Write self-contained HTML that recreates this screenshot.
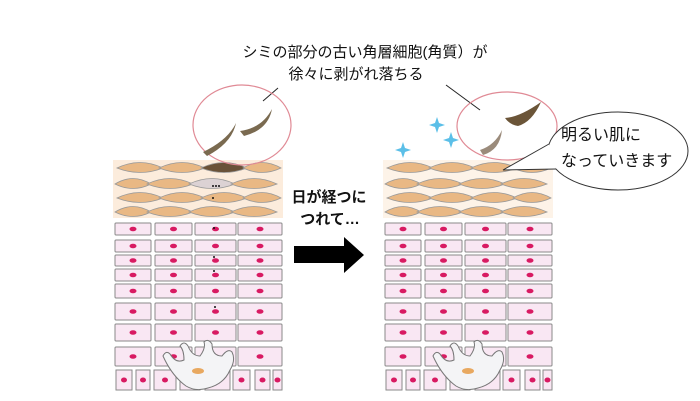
<!DOCTYPE html>
<html><head><meta charset="utf-8"><style>
html,body{margin:0;padding:0;background:#fff;width:700px;height:401px;overflow:hidden}
svg{display:block}
text{font-family:"Liberation Sans","Noto Sans CJK JP",sans-serif}
</style></head><body>
<svg id="s" width="700" height="401" viewBox="0 0 700 401" xmlns="http://www.w3.org/2000/svg">
<text x="365" y="57" font-size="15" text-anchor="middle" fill="#111">シミの部分の古い角層細胞(角質）が</text>
<text x="356" y="79" font-size="15" text-anchor="middle" fill="#111">徐々に剥がれ落ちる</text>
<line x1="278" y1="88" x2="263" y2="101" stroke="#222" stroke-width="1"/>
<line x1="446" y1="85" x2="480" y2="110" stroke="#222" stroke-width="1"/>
<text x="329" y="202" font-size="15" font-weight="bold" text-anchor="middle" fill="#111">日が経つに</text>
<text x="330" y="224" font-size="15" font-weight="bold" text-anchor="middle" fill="#111">つれて…</text>
<polygon points="294,246 344,246 344,237 364,255 344,273 344,263 294,263" fill="#000"/>
<g id="L"></g><g id="R" transform="translate(270,0)"></g>
<ellipse cx="242" cy="125" rx="49" ry="40" fill="none" stroke="#e08a95" stroke-width="1.2"/>
<path d="M203,152 Q228,140 236,123 Q232,143 207,156 Z" fill="#7a6a50"/>
<path d="M240,131 Q262,128 272,109 Q268,130 244,136 Z" fill="#7a6a50"/>
<ellipse cx="507" cy="126" rx="50" ry="34" fill="none" stroke="#e08a95" stroke-width="1.2"/>
<path d="M505,118 Q520,117 541,102 Q532,122 518,126 Q510,125 505,118 Z" fill="#6b5538"/>
<path d="M480,150 Q495,145 502,130 Q500,150 483,155 Z" fill="#9b8b7b"/>
<ellipse cx="618" cy="151" rx="70" ry="39" fill="#fff" stroke="#333" stroke-width="1"/>
<polygon points="549,144 503,170 556,169" fill="#fff"/>
<polyline points="549,144 503,170 556,169" fill="none" stroke="#333" stroke-width="1"/>
<text x="561" y="140" font-size="16" fill="#111">明るい肌に</text>
<text x="561" y="166" font-size="16" fill="#111">なっていきます</text>
<g fill="#5bbfe8">
<path d="M403,142 L405,148 L411,150 L405,152 L403,158 L401,152 L395,150 L401,148Z"/>
<path d="M437,117 L439,123 L445,125 L439,127 L437,133 L435,127 L429,125 L435,123Z"/>
<path d="M451,132 L453,138 L459,140 L453,142 L451,148 L449,142 L443,140 L449,138Z"/>
</g>
</svg>
<script>
var NS="http://www.w3.org/2000/svg";
function el(p,t,a){var e=document.createElementNS(NS,t);for(var k in a)e.setAttribute(k,a[k]);p.appendChild(e);return e;}
function block(g,right){
 el(g,"rect",{x:113,y:160,width:170,height:58,fill:right?"#fdf3e8":"#fcecdc"});
 var ys=[168,184,198,212];
 ys.forEach(function(y,ri){
  var off=(ri%2)?-12:0;
  for(var i=0;i<5;i++){
   var x0=117+off+i*42,x1=x0+46;
   if(x0<115)x0=115; if(x1>281)x1=281; if(x1-x0<14)continue;
   var c=ri==0&&i==2&&!right?"#6a5238":(ri==1&&i==2&&!right?"#dcd2d4":"#e9b884");
   el(g,"path",{d:"M"+x0+","+y+" Q"+((x0+x1)/2)+","+(y-11)+" "+x1+","+y+" Q"+((x0+x1)/2)+","+(y+9)+" "+x0+","+y+"Z",fill:c,stroke:"#999","stroke-width":0.8});
  }
 });
 var cols=[[115,151],[155,192],[195,236],[238,282]];
 var rows=[[223,235],[240,252],[255,266],[269,281],[284,298],[303,320],[324,341],[347,366]];
 rows.forEach(function(r){cols.forEach(function(c){
  el(g,"rect",{x:c[0],y:r[0],width:c[1]-c[0],height:r[1]-r[0],fill:"#f9e7f3",stroke:"#8a8a8a","stroke-width":1,rx:1});
  el(g,"ellipse",{cx:(c[0]+c[1])/2,cy:(r[0]+r[1])/2,rx:3.5,ry:2.3,fill:"#d81a62"});
 });});
 var bc=[[116,132],[136,150],[154,176],[180,200],[205,230],[233,250],[255,270],[273,282]];
 bc.forEach(function(c){
  el(g,"rect",{x:c[0],y:370,width:c[1]-c[0],height:20,fill:"#f9e7f3",stroke:"#8a8a8a","stroke-width":1});
  el(g,"ellipse",{cx:(c[0]+c[1])/2,cy:380,rx:3,ry:2.5,fill:"#d81a62"});
 });
 el(g,"path",{d:"M163,356 Q166,350 170,354 Q176,364 184,360 Q184,350 180,346 Q184,340 188,346 Q192,356 200,356 Q206,348 204,342 Q208,338 212,344 Q212,356 222,356 Q228,348 232,352 Q236,360 230,370 Q224,384 208,388 Q196,392 186,386 Q172,376 163,356 Z",fill:"#f4f4f6",stroke:"#777","stroke-width":1});
 el(g,"ellipse",{cx:198,cy:371,rx:6,ry:3,fill:"#e8a860"});
}
block(document.getElementById("L"),false);
block(document.getElementById("R"),true);
var L=document.getElementById("L");
[[213,186],[216,186],[219,186],[213,198],[214,228],[214,257],[214,271],[215,307]].forEach(function(p){el(L,"circle",{cx:p[0],cy:p[1],r:1,fill:"#111"});});
</script>
</body></html>
